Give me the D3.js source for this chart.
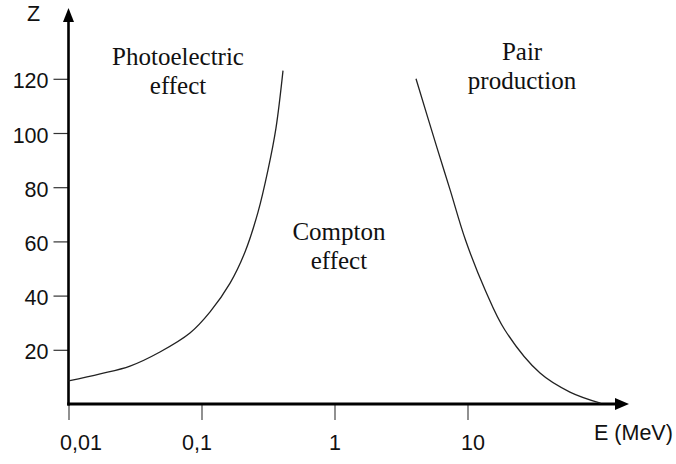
<!DOCTYPE html>
<html>
<head>
<meta charset="utf-8">
<script src="https://cdn.jsdelivr.net/npm/d3@7"></script>
<style>
html,body{margin:0;padding:0;background:#fff;}
svg{display:block;}
</style>
</head>
<body>
<svg id="chart" width="676" height="464"></svg>
<script>
// ---- data ----
const xTickValues = [0.01, 0.1, 1, 10];
const xTickLabels = ["0,01", "0,1", "1", "10"];
const yTickValues = [20, 40, 60, 80, 100, 120];
const yTickLabels = ["20", "40", "60", "80", "100", "120"];

// Photoelectric / Compton boundary (E in MeV, Z)
const photoE = [0.01, 0.0173, 0.029, 0.0487, 0.0819, 0.116, 0.164, 0.212, 0.266, 0.316, 0.363, 0.41];
const photoZ = [8.5, 11.1, 14, 19.2, 26.2, 34, 44.6, 56, 70.8, 86.3, 101.8, 123];
// Compton / pair production boundary
const pairE = [4.1, 5.9, 7.4, 9.66, 13.6, 19.1, 35.1, 58.9, 100];
const pairZ = [120, 94.5, 79, 60.5, 42, 27.3, 11.4, 4.4, 0.3];

const regionLabels = [
  {lines: ["Photoelectric", "effect"], E: 0.0666, Z: 125},
  {lines: ["Compton", "effect"], E: 1.08, Z: 60.5},
  {lines: ["Pair", "production"], E: 25.7, Z: 127}
];

// ---- scales ----
const svg = d3.select("#chart");
const x = d3.scaleLog().domain([0.01, 10]).range([68.5, 467.5]);
const y = d3.scaleLinear().domain([0, 120]).range([404, 78.8]);

const sans = "'Liberation Sans', Arial, sans-serif";
const serif = "'Liberation Serif', 'Times New Roman', serif";

// ---- y axis ticks ----
const yAxis = d3.axisLeft(y)
  .tickValues(yTickValues)
  .tickFormat((d, i) => yTickLabels[i])
  .tickSize(15)
  .tickPadding(5);
const gy = svg.append("g").attr("transform", `translate(${x(0.01)},0)`).call(yAxis);
gy.select(".domain").remove();
gy.selectAll(".tick line").attr("stroke", "#333").attr("stroke-width", 1.2);
gy.selectAll(".tick text")
  .attr("font-family", sans).attr("font-size", 21.5).attr("fill", "#111")
  .attr("dy", "0.42em");

// ---- x axis ticks ----
const xLabelDx = [12, -5, 0, 5];
const xAxis = d3.axisBottom(x)
  .tickValues(xTickValues)
  .tickFormat((d, i) => xTickLabels[i])
  .tickSize(16)
  .tickPadding(15);
const gx = svg.append("g").attr("transform", `translate(0,${y(0)})`).call(xAxis);
gx.select(".domain").remove();
gx.selectAll(".tick line").attr("stroke", "#555").attr("stroke-width", 1.3);
gx.selectAll(".tick text")
  .attr("font-family", sans).attr("font-size", 21.5).attr("fill", "#111")
  .attr("dx", (d, i) => xLabelDx[i]);

// ---- axis lines with arrows ----
const x0 = x(0.01), y0 = y(0);
svg.append("line").attr("x1", x0).attr("y1", y0 + 1.5).attr("x2", x0).attr("y2", 18)
  .attr("stroke", "#000").attr("stroke-width", 2.6);
svg.append("path").attr("d", `M${x0},8 L${x0 - 5.5},22 L${x0 + 5.5},22 Z`).attr("fill", "#000");
svg.append("line").attr("x1", x0 - 1.3).attr("y1", y0).attr("x2", 620).attr("y2", y0)
  .attr("stroke", "#000").attr("stroke-width", 3);
svg.append("path").attr("d", `M629,${y0} L615,${y0 - 6} L615,${y0 + 6} Z`).attr("fill", "#000");

// axis titles
svg.append("text").attr("x", 27).attr("y", 21).text("Z")
  .attr("font-family", sans).attr("font-size", 21.5).attr("fill", "#111");
svg.append("text").attr("x", 594).attr("y", 440).text("E (MeV)")
  .attr("font-family", sans).attr("font-size", 21.5).attr("fill", "#111");

// ---- boundary curves ----
const line = d3.line().x(d => x(d[0])).y(d => y(d[1])).curve(d3.curveCatmullRom.alpha(0.5));
svg.append("path").datum(photoE.map((e, i) => [e, photoZ[i]])).attr("d", line)
  .attr("fill", "none").attr("stroke", "#222").attr("stroke-width", 1.3);
svg.append("path").datum(pairE.map((e, i) => [e, pairZ[i]])).attr("d", line)
  .attr("fill", "none").attr("stroke", "#222").attr("stroke-width", 1.3);

// ---- region labels ----
regionLabels.forEach(r => {
  const t = svg.append("text")
    .attr("font-family", serif).attr("font-size", 25).attr("fill", "#111")
    .attr("text-anchor", "middle");
  r.lines.forEach((s, i) => {
    t.append("tspan").attr("x", x(r.E)).attr("y", y(r.Z) + i * 29).text(s);
  });
});
</script>
</body>
</html>
